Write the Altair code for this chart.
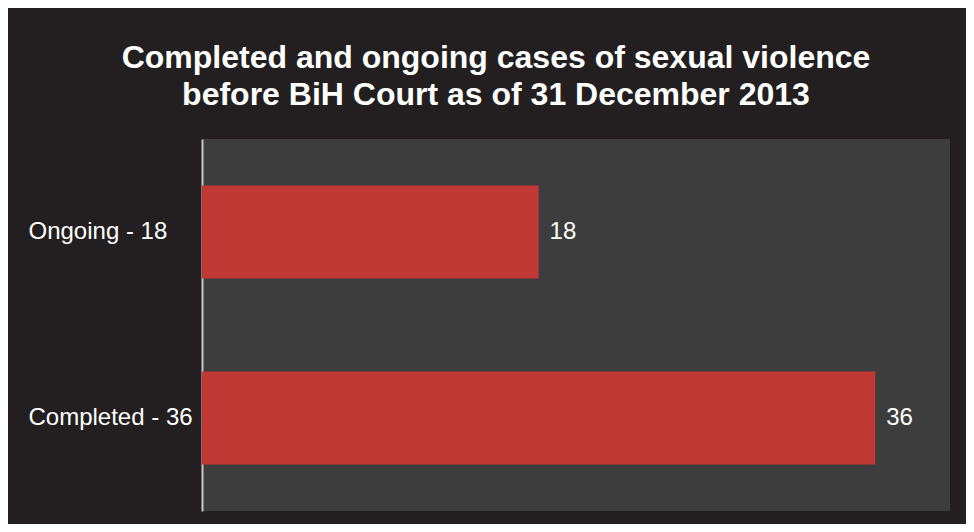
import altair as alt
import pandas as pd

categories = ["Ongoing - 18", "Completed - 36"]
values = [18, 36]
value_labels = ["18", "36"]

df = pd.DataFrame({"category": categories, "value": values, "label": value_labels})

FONT = "Liberation Sans"

y_enc = alt.Y(
    "category:N",
    sort=categories,
    title=None,
    scale=alt.Scale(paddingInner=0.5, paddingOuter=0.25),
    axis=alt.Axis(
        domainColor="#c8c8c8",
        domainWidth=2,
        ticks=False,
        tickSize=0,
        labelAlign="left",
        labelBaseline="middle",
        labelPadding=174,
        labelColor="#ffffff",
        labelFont=FONT,
        labelFontSize=24,
        grid=False,
        labelLimit=300,
    ),
)
x_enc = alt.X("value:Q", scale=alt.Scale(domain=[0, 40], nice=False), axis=None)

bars = alt.Chart(df).mark_bar(color="#c03935").encode(x=x_enc, y=y_enc)
texts = alt.Chart(df).mark_text(
    align="left", baseline="middle", dx=11, fontSize=24, font=FONT, color="#ffffff"
).encode(x=x_enc, y=alt.Y("category:N", sort=categories), text="label:N")

chart = (
    alt.layer(bars, texts)
    .properties(
        width=748,
        height=372,
        autosize=alt.AutoSizeParams(type="none"),
        padding={"left": 194, "top": 131, "right": 16, "bottom": 13},
        background="#231f20",
        title=alt.TitleParams(
            text=["Completed and ongoing cases of sexual violence",
                  "before BiH Court as of 31 December 2013"],
            font=FONT,
            fontSize=32,
            fontWeight="bold",
            color="#ffffff",
            lineHeight=37,
            anchor="middle",
            frame="group",
            dx=-80,
            offset=27,
        ),
    )
    .configure_view(fill="#3d3d3d", stroke=None)
)

chart.save("out.html", embed_options={"renderer": "svg", "actions": False})
